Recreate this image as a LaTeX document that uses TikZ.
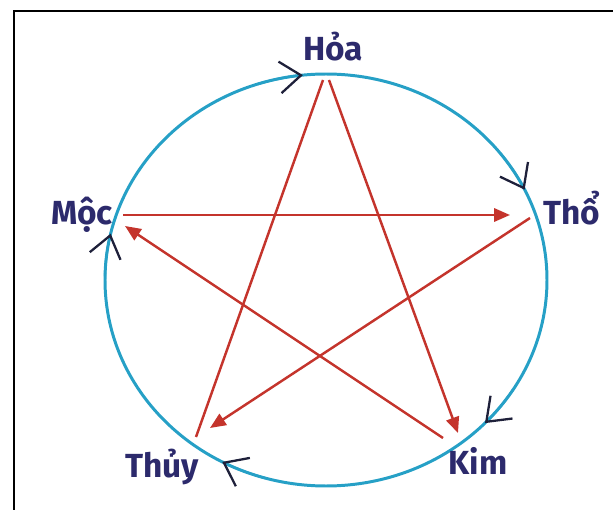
\documentclass[tikz,border=0pt]{standalone}
\usepackage{fontspec}
\setmainfont{Fira Sans}
\usetikzlibrary{arrows.meta}
\definecolor{ringblue}{RGB}{38,160,198}
\definecolor{starred}{RGB}{196,52,44}
\definecolor{chevnavy}{RGB}{30,32,58}
\definecolor{labelnavy}{RGB}{44,42,108}

\begin{document}
\begin{tikzpicture}[x=0.02cm, y=-0.02cm,
    lbl/.style={font=\fontsize{19}{21}\selectfont\bfseries, text=labelnavy, inner sep=0pt, anchor=base},
    khac/.style={starred, line width=1.4pt, -{Triangle[length=9pt, width=7.5pt]}},
    sinh/.style={ringblue, line width=1.3pt, -{Straight Barb[length=12pt, width=18pt, color=chevnavy]}}]

    \useasboundingbox (0,0) rectangle (613,510);

    % Frame (left and top edges)
    \draw[line width=1.2pt] (14,510) -- (14,11) -- (613,11);

    % Ring
    \draw[ringblue, line width=1.7pt] (326,280) ellipse [x radius=221, y radius=206];

    % Chevrons on the ring (clockwise)
    \foreach \t in {-96, -26, 44, 118, -167}{
      \draw[sinh] (326,280) ++(\t-12:221 and 206)
        arc[start angle=\t-12, end angle=\t, x radius=221, y radius=206];
    }

    % Labels
    \node[lbl] (hoa)  at (333,61)  {Hỏa};
    \node[lbl] (tho)  at (572,225) {Thổ};
    \node[lbl] (kim)  at (478,475) {Kim};
    \node[lbl] (thuy) at (162,478) {Thủy};
    \node[lbl] (moc)  at (82,225)  {Mộc};

    % Star corners
    \coordinate (sHoaL)    at (323,80);
    \coordinate (sHoaR)    at (329,80);
    \coordinate (sThoIn)   at (510,215);
    \coordinate (sThoOut)  at (530,218);
    \coordinate (sKimIn)   at (458,433);
    \coordinate (sKimOut)  at (443,438);
    \coordinate (sThuyIn)  at (210,428);
    \coordinate (sThuyOut) at (196,437);
    \coordinate (sMocIn)   at (125,226);
    \coordinate (sMocOut)  at (123,215);

    % Star arrows
    \draw[khac] (sMocOut) -- (sThoIn);
    \draw[khac] (sThoOut) -- (sThuyIn);
    \draw[khac, -] (sThuyOut) -- (sHoaL);
    \draw[khac] (sHoaR) -- (sKimIn);
    \draw[khac] (sKimOut) -- (sMocIn);

\end{tikzpicture}
\end{document}
